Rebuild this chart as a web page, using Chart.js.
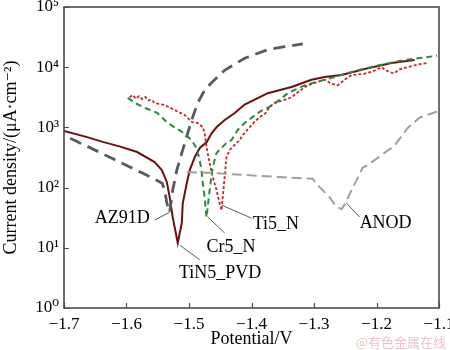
<!DOCTYPE html>
<html>
<head>
<meta charset="utf-8">
<script src="https://cdn.jsdelivr.net/npm/chart.js@4/dist/chart.umd.min.js"></script>
<style>
  body { margin: 0; background: #fff; }
</style>
</head>
<body>
<canvas id="chart" width="450" height="350"></canvas>
<script>
// potential (V) and current density (uA/cm2)
const az91dV = [-1.69, -1.66, -1.62, -1.58, -1.555, -1.543, -1.539, -1.536, -1.533, -1.531, -1.526, -1.5195, -1.5115, -1.502, -1.494, -1.486, -1.475, -1.464, -1.456, -1.443, -1.411, -1.374, -1.347, -1.318];
const az91dI = [660, 470, 295, 186, 138, 118, 92, 60, 43, 39, 91, 196, 376, 807, 1490, 2540, 4180, 5500, 6600, 8900, 14100, 19500, 21900, 24300];

const tin5V = [-1.70, -1.663, -1.638, -1.61, -1.583, -1.555, -1.5435, -1.5355, -1.531, -1.526, -1.518, -1.5115, -1.51, -1.5035, -1.4987, -1.4907, -1.4827, -1.4716, -1.4636, -1.4556, -1.4428, -1.4268, -1.411, -1.374, -1.336, -1.304, -1.283, -1.256, -1.219, -1.176, -1.139];
const tin5I = [870, 690, 575, 480, 390, 266, 196, 124, 70, 32, 12, 26, 55, 119, 196, 322, 455, 572, 807, 1015, 1327, 1735, 2400, 3700, 4680, 6200, 6900, 7400, 9300, 11700, 13200];

const cr5V = [-1.598, -1.585, -1.57, -1.551, -1.534, -1.511, -1.496, -1.488, -1.483, -1.480, -1.478, -1.475, -1.472, -1.467, -1.462, -1.456, -1.448, -1.44, -1.432, -1.422, -1.411, -1.387, -1.366, -1.342, -1.315, -1.267, -1.23, -1.192, -1.155, -1.103];
const cr5I = [3100, 2500, 2100, 1750, 1180, 840, 617, 455, 287, 196, 119, 70, 32, 91, 220, 376, 455, 551, 618, 906, 1183, 1820, 2340, 3700, 5000, 6900, 8900, 11000, 13200, 15500];

const ti5V = [-1.595, -1.590, -1.585, -1.580, -1.575, -1.570, -1.565, -1.560, -1.555, -1.539, -1.523, -1.507, -1.4955, -1.486, -1.478, -1.475, -1.472, -1.467, -1.462, -1.456, -1.451, -1.448, -1.446, -1.443, -1.44, -1.435, -1.427, -1.419, -1.414, -1.403, -1.395, -1.387, -1.378, -1.371, -1.363, -1.350, -1.336, -1.325, -1.315, -1.299, -1.283, -1.272, -1.262, -1.25, -1.24, -1.219, -1.205, -1.192, -1.18, -1.172, -1.163, -1.151, -1.135, -1.12];
const ti5I = [3160, 3450, 3000, 3300, 2950, 3200, 2800, 2900, 2540, 2350, 1945, 1610, 1230, 1180, 1015, 807, 472, 256, 150, 91, 55, 42, 70, 150, 322, 422, 510, 618, 748, 1000, 1250, 1480, 1700, 2190, 2570, 2800, 3160, 3900, 4680, 5500, 6200, 5300, 5000, 6300, 7400, 7800, 8600, 10000, 8300, 7900, 9200, 10000, 11000, 11700];

const anodV = [-1.5035, -1.45, -1.411, -1.355, -1.302, -1.298, -1.291, -1.275, -1.264, -1.256, -1.251, -1.24, -1.222, -1.214, -1.195, -1.171, -1.15, -1.131, -1.104, -1.1];
const anodI = [182, 172, 162, 150, 140, 122, 102, 69, 48, 44, 52, 90, 215, 235, 330, 500, 980, 1450, 1820, 1850];

const xTicks = [-1.7, -1.6, -1.5, -1.4, -1.3, -1.2, -1.1];
const yTicks = [1, 10, 100, 1000, 10000, 100000];
const yTickLabels = ['10\u2070', '10\u00b9', '10\u00b2', '10\u00b3', '10\u2074', '10\u2075'];

// curve labels: text, leader line start/end and text anchor (in axis units)
const noteText = ['AZ91D', 'TiN5_PVD', 'Cr5_N', 'Ti5_N', 'ANOD'];
const noteFromV = [-1.531, -1.5144, -1.470, -1.4476, -1.248];
const noteFromI = [39, 11, 32.5, 51, 55];
const noteToV = [-1.5546, -1.4827, -1.443, -1.3997, -1.227];
const noteToI = [29, 6.3, 17.6, 31, 32.5];
const noteTextV = [-1.563, -1.516, -1.472, -1.398, -1.227];
const noteTextI = [31, 3.8, 10.3, 24.8, 25.8];

const serif = "'Liberation Serif', 'DejaVu Serif', serif";

function toPoints(vs, is) {
    return vs.map((v, i) => ({x: v, y: is[i]}));
}

const framePlugin = {
    id: 'frame',
    afterDatasetsDraw(chart) {
        const {ctx, chartArea: a, scales: {x, y}} = chart;
        ctx.save();
        ctx.strokeStyle = '#4a4a4a';
        ctx.lineWidth = 1.6;
        ctx.strokeRect(a.left, a.top, a.right - a.left, a.bottom - a.top);

        // inward tick marks
        ctx.beginPath();
        xTicks.forEach(v => {
            const px = Math.round(x.getPixelForValue(v)) + 0.5;
            ctx.moveTo(px, a.bottom);
            ctx.lineTo(px, a.bottom - 5);
        });
        yTicks.forEach(v => {
            const py = Math.round(y.getPixelForValue(v)) + 0.5;
            ctx.moveTo(a.left, py);
            ctx.lineTo(a.left + 5, py);
        });
        ctx.lineWidth = 1.2;
        ctx.stroke();

        // leader lines and labels
        ctx.strokeStyle = '#333';
        ctx.lineWidth = 0.8;
        ctx.fillStyle = '#000';
        ctx.font = '18px ' + serif;
        ctx.textBaseline = 'middle';
        noteText.forEach((t, i) => {
            ctx.beginPath();
            ctx.moveTo(x.getPixelForValue(noteFromV[i]), y.getPixelForValue(noteFromI[i]));
            ctx.lineTo(x.getPixelForValue(noteToV[i]), y.getPixelForValue(noteToI[i]));
            ctx.stroke();
            ctx.textAlign = i === 0 ? 'right' : 'left';
            ctx.fillText(t, x.getPixelForValue(noteTextV[i]), y.getPixelForValue(noteTextI[i]));
        });

        // watermark
        ctx.font = "13px 'Noto Sans CJK SC', sans-serif";
        ctx.fillStyle = 'rgba(225, 140, 140, 0.55)';
        ctx.textAlign = 'right';
        ctx.fillText('@有色金属在线', 446, 342);
        ctx.restore();
    }
};

const ctx = document.getElementById('chart').getContext('2d');

new Chart(ctx, {
    type: 'line',
    data: {
        datasets: [
            {label: 'AZ91D', data: toPoints(az91dV, az91dI), borderColor: '#5a5a5a', borderWidth: 2.8, borderDash: [12, 7]},
            {label: 'ANOD', data: toPoints(anodV, anodI), borderColor: '#a0a0a0', borderWidth: 2, borderDash: [10, 5]},
            {label: 'Cr5_N', data: toPoints(cr5V, cr5I), borderColor: '#2a8a3c', borderWidth: 2, borderDash: [6, 4]},
            {label: 'Ti5_N', data: toPoints(ti5V, ti5I), borderColor: '#c42a2c', borderWidth: 1.8, borderDash: [3, 2]},
            {label: 'TiN5_PVD', data: toPoints(tin5V, tin5I), borderColor: '#6b1010', borderWidth: 2}
        ]
    },
    options: {
        responsive: false,
        animation: false,
        parsing: true,
        elements: {point: {radius: 0}, line: {tension: 0, fill: false}},
        layout: {padding: {left: 0, right: 11, top: 7, bottom: 0}},
        plugins: {
            legend: {display: false},
            tooltip: {enabled: false}
        },
        scales: {
            x: {
                type: 'linear',
                min: -1.7,
                max: -1.1,
                grid: {display: false, drawTicks: false},
                border: {display: false},
                afterBuildTicks: scale => { scale.ticks = xTicks.map(v => ({value: v})); },
                ticks: {
                    color: '#000',
                    padding: 6,
                    maxRotation: 0,
                    font: {family: serif, size: 17},
                    callback: v => v.toFixed(1).replace('-', '\u2212')
                },
                title: {
                    display: true,
                    text: 'Potential/V',
                    color: '#000',
                    padding: {top: 0, bottom: 0},
                    font: {family: serif, size: 18}
                },
                afterFit: scale => {
                    scale.height = 42;
                    scale.paddingLeft = 0;
                    scale.paddingRight = 0;
                }
            },
            y: {
                type: 'logarithmic',
                min: 1,
                max: 100000,
                grid: {display: false, drawTicks: false},
                border: {display: false},
                afterBuildTicks: scale => { scale.ticks = yTicks.map(v => ({value: v})); },
                ticks: {
                    color: '#000',
                    padding: 5,
                    font: {family: serif, size: 17},
                    callback: v => yTickLabels[yTicks.indexOf(v)]
                },
                title: {
                    display: true,
                    text: 'Current density/(\u03bcA\u00b7cm\u207b\u00b2)',
                    color: '#000',
                    padding: {top: 0, bottom: 0},
                    font: {family: serif, size: 18}
                },
                afterFit: scale => {
                    scale.width = 64;
                    scale.paddingTop = 0;
                    scale.paddingBottom = 0;
                }
            }
        }
    },
    plugins: [framePlugin]
});
</script>
</body>
</html>
